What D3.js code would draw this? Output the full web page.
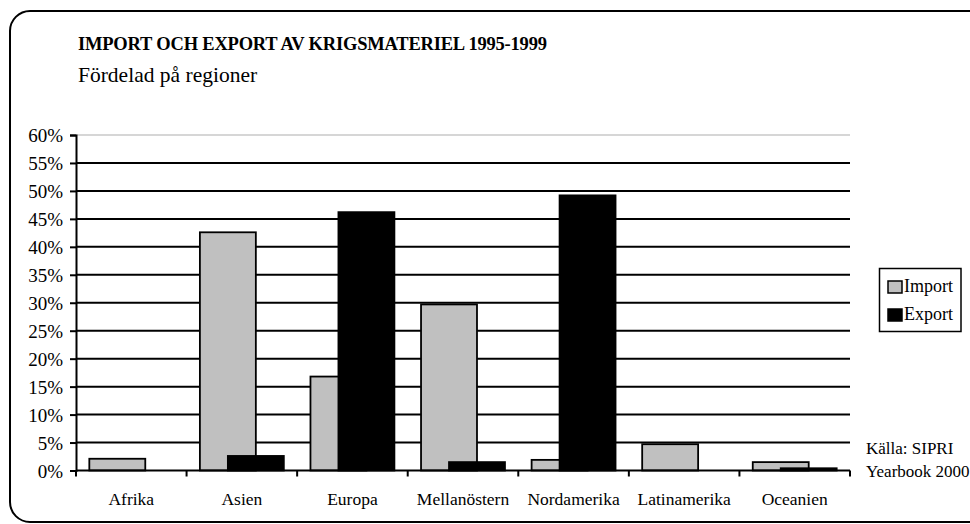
<!DOCTYPE html>
<html>
<head>
<meta charset="utf-8">
<script src="https://cdn.jsdelivr.net/npm/d3@7"></script>
<style>
  body { margin: 0; background: #fff; }
  svg text { font-family: "Liberation Serif", "Times New Roman", serif; fill: #000; }
</style>
</head>
<body>
<div class="chart"></div>
<script>
const categories = ["Afrika", "Asien", "Europa", "Mellanöstern", "Nordamerika", "Latinamerika", "Oceanien"]
const importValues = [2.1, 42.6, 16.8, 29.7, 1.9, 4.7, 1.5]
const exportValues = [0, 2.6, 46.2, 1.5, 49.2, 0, 0.4]
const yTicks = [0, 5, 10, 15, 20, 25, 30, 35, 40, 45, 50, 55, 60]
const seriesNames = ["Import", "Export"]
const seriesColors = ["#c0c0c0", "#000000"]

const width = 970
const height = 524
const plotLeft = 76
const plotRight = 850
const plotTop = 135
const plotBottom = 470.5

const svg = d3.select(".chart")
    .append("svg")
    .attr("width", width)
    .attr("height", height)

// outer frame, right side runs off the picture
svg.append("rect")
    .attr("x", 10)
    .attr("y", 11)
    .attr("width", 990)
    .attr("height", 511)
    .attr("rx", 20)
    .attr("fill", "none")
    .attr("stroke", "#000")
    .attr("stroke-width", 2)

svg.append("text")
    .attr("x", 78)
    .attr("y", 50)
    .attr("font-size", 18.5)
    .attr("font-weight", "bold")
    .attr("letter-spacing", -0.2)
    .text("IMPORT OCH EXPORT AV KRIGSMATERIEL 1995-1999")

svg.append("text")
    .attr("x", 78)
    .attr("y", 82)
    .attr("font-size", 21.5)
    .text("Fördelad på regioner")

const xScale = d3.scaleBand()
    .domain(categories)
    .range([plotLeft, plotRight])

const yScale = d3.scaleLinear()
    .domain([0, 60])
    .range([plotBottom, plotTop])

// gridlines
svg.append("g")
    .selectAll("line")
    .data(yTicks.filter(t => t > 0))
    .join("line")
    .attr("x1", plotLeft)
    .attr("x2", plotRight)
    .attr("y1", d => yScale(d))
    .attr("y2", d => yScale(d))
    .attr("stroke", d => d === 60 ? "#c8c8c8" : "#000")
    .attr("stroke-width", d => d === 60 ? 1.5 : 2)

// bars
const bw = xScale.bandwidth()
const barW = bw * 0.506
const gap = (bw - 1.5 * barW) / 2

const rows = categories.map((c, i) => ({ c, imp: importValues[i], exp: exportValues[i] }))

svg.append("g")
    .selectAll("rect")
    .data(rows)
    .join("rect")
    .attr("x", d => xScale(d.c) + gap)
    .attr("y", d => yScale(d.imp))
    .attr("width", barW)
    .attr("height", d => yScale(0) - yScale(d.imp))
    .attr("fill", seriesColors[0])
    .attr("stroke", "#000")
    .attr("stroke-width", 1.8)

svg.append("g")
    .selectAll("rect")
    .data(rows.filter(d => d.exp > 0))
    .join("rect")
    .attr("x", d => xScale(d.c) + gap + barW / 2)
    .attr("y", d => yScale(d.exp))
    .attr("width", barW)
    .attr("height", d => yScale(0) - yScale(d.exp))
    .attr("fill", seriesColors[1])
    .attr("stroke", "#000")
    .attr("stroke-width", 1.8)

// y axis
const yAxis = d3.axisLeft(yScale)
    .tickValues(yTicks)
    .tickSize(6)
    .tickPadding(7)
    .tickFormat(d => d + "%")

svg.append("g")
    .attr("transform", `translate(${plotLeft},0)`)
    .call(yAxis)
    .call(g => g.select(".domain").attr("stroke-width", 2))
    .call(g => g.selectAll(".tick line").attr("stroke-width", 2))
    .call(g => g.selectAll("text")
        .attr("font-family", "Liberation Serif")
        .attr("font-size", 19)
        .attr("dy", "0.36em"))

// x axis: ticks sit between categories
svg.append("line")
    .attr("x1", plotLeft)
    .attr("x2", plotRight)
    .attr("y1", plotBottom)
    .attr("y2", plotBottom)
    .attr("stroke", "#000")
    .attr("stroke-width", 2)

const bounds = categories.map(c => xScale(c)).concat([plotRight])
svg.append("g")
    .selectAll("line")
    .data(bounds)
    .join("line")
    .attr("x1", d => d)
    .attr("x2", d => d)
    .attr("y1", plotBottom)
    .attr("y2", plotBottom + 6)
    .attr("stroke", "#000")
    .attr("stroke-width", 2)

svg.append("g")
    .selectAll("text")
    .data(categories)
    .join("text")
    .attr("x", d => xScale(d) + bw / 2)
    .attr("y", 505)
    .attr("text-anchor", "middle")
    .attr("font-size", 17.5)
    .text(d => d)

// legend
const legend = svg.append("g")
svg.append("rect")
    .attr("x", 879.5)
    .attr("y", 268.5)
    .attr("width", 81.5)
    .attr("height", 63)
    .attr("fill", "none")
    .attr("stroke", "#000")
    .attr("stroke-width", 1.5)

legend.selectAll("rect")
    .data(seriesNames)
    .join("rect")
    .attr("x", 888)
    .attr("y", (d, i) => 281 + i * 28)
    .attr("width", 14)
    .attr("height", 12)
    .attr("fill", (d, i) => seriesColors[i])
    .attr("stroke", "#000")
    .attr("stroke-width", 1.5)

legend.selectAll("text")
    .data(seriesNames)
    .join("text")
    .attr("x", 904)
    .attr("y", (d, i) => 292 + i * 28)
    .attr("font-size", 18)
    .text(d => d)

svg.append("text")
    .attr("x", 866)
    .attr("y", 454)
    .attr("font-size", 17)
    .text("Källa: SIPRI")

svg.append("text")
    .attr("x", 866)
    .attr("y", 477)
    .attr("font-size", 17)
    .text("Yearbook 2000")
</script>
</body>
</html>
